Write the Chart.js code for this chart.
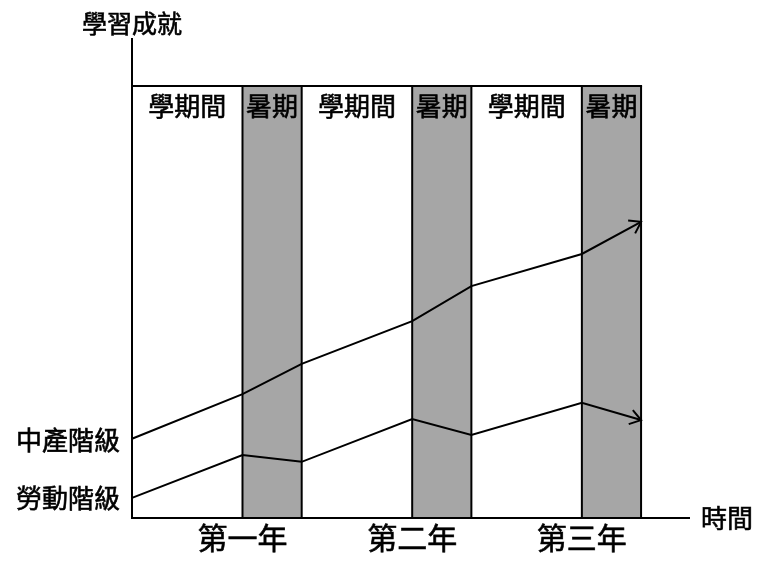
<!DOCTYPE html>
<html>
<head>
<meta charset="utf-8">
<script src="https://cdn.jsdelivr.net/npm/chart.js@4/dist/chart.umd.min.js"></script>
<style>
  html, body { margin: 0; padding: 0; background: #fff; }
  canvas { display: block; }
</style>
</head>
<body>
<canvas id="chart" width="760" height="564"></canvas>
<script>
// 時間軸 (週): 學期間 28 週, 暑期 15 週
const periodEdges = [0, 28, 43, 71, 86, 114, 129];
const periodLabels = ["學期間", "暑期", "學期間", "暑期", "學期間", "暑期"];
const yearLabels = ["第一年", "第二年", "第三年"];
const yearTicks = [28, 71, 114];

// 學習成就 (估計值)
const middleClass = [16.5, 25.8, 32.1, 41.0, 48.3, 55.0, 61.7];
const workingClass = [4.2, 13.1, 11.7, 20.6, 17.3, 24.0, 20.4];
const seriesNames = ["中產階級", "勞動階級"];

const boxTop = 90;
const FONT = '"Noto Sans CJK TC", "Noto Sans CJK SC", sans-serif';

function toPoints(values) {
  return values.map((v, i) => ({ x: periodEdges[i], y: v }));
}

// 稍微加粗的文字
function label(ctx, text, px, py) {
  ctx.fillText(text, px, py);
  ctx.strokeText(text, px, py);
}

const schoolPlugin = {
  id: 'schoolPlugin',
  beforeDatasetsDraw(chart) {
    const { ctx, scales: { x, y } } = chart;
    const top = y.getPixelForValue(boxTop);
    const bottom = y.getPixelForValue(0);
    ctx.save();
    // 暑期底色
    ctx.fillStyle = '#a6a6a6';
    for (let i = 1; i < periodEdges.length; i += 2) {
      const x0 = x.getPixelForValue(periodEdges[i]);
      const x1 = x.getPixelForValue(periodEdges[i + 1]);
      ctx.fillRect(x0, top, x1 - x0, bottom - top);
    }
    ctx.strokeStyle = '#000';
    ctx.lineWidth = 2;
    // 上框
    ctx.beginPath();
    ctx.moveTo(x.getPixelForValue(0), top);
    ctx.lineTo(x.getPixelForValue(periodEdges[periodEdges.length - 1]) + 1, top);
    ctx.stroke();
    // 分隔線
    periodEdges.forEach(e => {
      const px = x.getPixelForValue(e);
      ctx.beginPath();
      ctx.moveTo(px, top);
      ctx.lineTo(px, bottom);
      ctx.stroke();
    });
    // 座標軸
    ctx.beginPath();
    ctx.moveTo(x.left, y.top);
    ctx.lineTo(x.left, y.bottom);
    ctx.lineTo(x.right, y.bottom);
    ctx.stroke();
    ctx.restore();
  },
  afterDatasetsDraw(chart) {
    const { ctx, scales: { x, y } } = chart;
    ctx.save();
    // 箭頭
    ctx.strokeStyle = '#000';
    ctx.lineWidth = 2;
    chart.data.datasets.forEach((ds, di) => {
      const pts = chart.getDatasetMeta(di).data;
      const a = pts[pts.length - 2], b = pts[pts.length - 1];
      const ang = Math.atan2(b.y - a.y, b.x - a.x);
      const len = 13, spread = 0.6;
      ctx.beginPath();
      ctx.moveTo(b.x - len * Math.cos(ang - spread), b.y - len * Math.sin(ang - spread));
      ctx.lineTo(b.x, b.y);
      ctx.lineTo(b.x - len * Math.cos(ang + spread), b.y - len * Math.sin(ang + spread));
      ctx.stroke();
    });

    ctx.fillStyle = '#000';
    ctx.lineWidth = 0.6;
    ctx.textBaseline = 'middle';
    // 時段標籤
    ctx.font = '26px ' + FONT;
    ctx.textAlign = 'center';
    const labelY = y.getPixelForValue(boxTop) + 20;
    periodLabels.forEach((t, i) => {
      const cx = (x.getPixelForValue(periodEdges[i]) + x.getPixelForValue(periodEdges[i + 1])) / 2;
      label(ctx, t, cx, labelY);
    });
    // 年份
    ctx.font = '30px ' + FONT;
    yearLabels.forEach((t, i) => {
      label(ctx, t, x.getPixelForValue(yearTicks[i]), y.bottom + 20);
    });
    // 軸標題
    ctx.font = '25px ' + FONT;
    label(ctx, '學習成就', x.left, y.top - 15);
    ctx.font = '26px ' + FONT;
    ctx.textAlign = 'left';
    label(ctx, '時間', x.right + 11, y.bottom);
    // 系列名稱
    ctx.textAlign = 'right';
    label(ctx, seriesNames[0], x.left - 12, y.getPixelForValue(middleClass[0]) + 1);
    label(ctx, seriesNames[1], x.left - 12, y.getPixelForValue(workingClass[0]));
    ctx.restore();
  }
};

new Chart(document.getElementById('chart'), {
  type: 'line',
  data: {
    datasets: [
      { label: seriesNames[0], data: toPoints(middleClass) },
      { label: seriesNames[1], data: toPoints(workingClass) }
    ].map(d => Object.assign(d, {
      borderColor: '#000',
      borderWidth: 2,
      pointRadius: 0,
      tension: 0,
      fill: false,
      clip: false
    }))
  },
  options: {
    responsive: false,
    animation: false,
    layout: { padding: { left: 132, right: 70, top: 38, bottom: 46 } },
    scales: {
      x: { type: 'linear', min: 0, max: 141.4, display: false },
      y: { type: 'linear', min: 0, max: 100, display: false }
    },
    plugins: { legend: { display: false }, tooltip: { enabled: false } }
  },
  plugins: [schoolPlugin]
});
</script>
</body>
</html>
